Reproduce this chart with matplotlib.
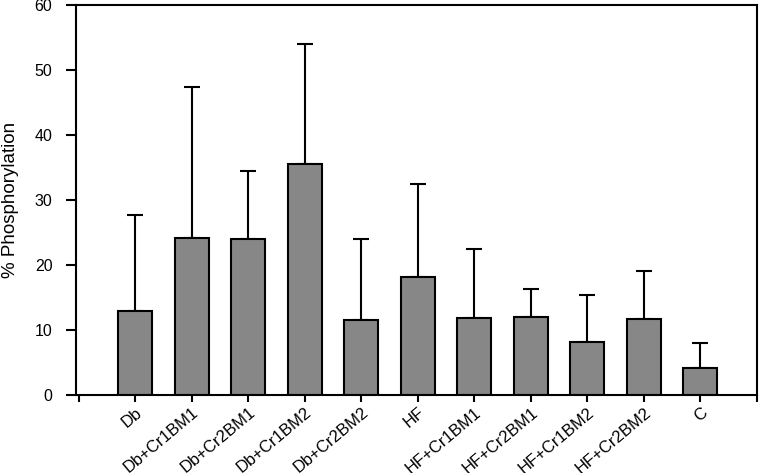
import matplotlib.pyplot as plt
import numpy as np

plt.rcParams['font.family'] = ['Liberation Sans', 'DejaVu Sans']

groups = ['Db', 'Db+Cr1BM1', 'Db+Cr2BM1', 'Db+Cr1BM2', 'Db+Cr2BM2', 'HF',
          'HF+Cr1BM1', 'HF+Cr2BM1', 'HF+Cr1BM2', 'HF+Cr2BM2', 'C']
means = [12.9, 24.2, 24.0, 35.6, 11.5, 18.2, 11.8, 12.0, 8.1, 11.7, 4.1]
upper = [27.7, 47.4, 34.5, 54.0, 24.0, 32.5, 22.5, 16.3, 15.4, 19.1, 8.0]

means = np.array(means)
err = np.array(upper) - means
x = np.arange(1, len(groups) + 1)

fig = plt.figure(figsize=(7.6, 4.73), dpi=100)
ax = fig.add_axes([0.1, 0.165, 0.896, 0.824])

ax.bar(x, means, width=0.6, color='#878787', edgecolor='black', linewidth=1.5, zorder=2)
ax.errorbar(x, means, yerr=[np.zeros_like(err), err], fmt='none', ecolor='black',
            elinewidth=1.5, capsize=5.5, capthick=1.5, zorder=1)

ax.set_xlim(-0.05, 12.0)
ax.set_ylim(0, 60)
ax.set_yticks(range(0, 61, 10))
ax.set_xticks(range(0, 13))
ax.set_xticklabels([''] + groups + [''], rotation=40, ha='right', va='top',
                   rotation_mode='anchor')
ax.tick_params(axis='y', length=7, width=1.5, labelsize=11.5, pad=10)
ax.tick_params(axis='x', length=5, width=1.5, labelsize=12, pad=2)
ax.set_ylabel('% Phosphorylation', fontsize=13.5, labelpad=11)
for s in ax.spines.values():
    s.set_linewidth(1.5)

plt.savefig('out.png')
